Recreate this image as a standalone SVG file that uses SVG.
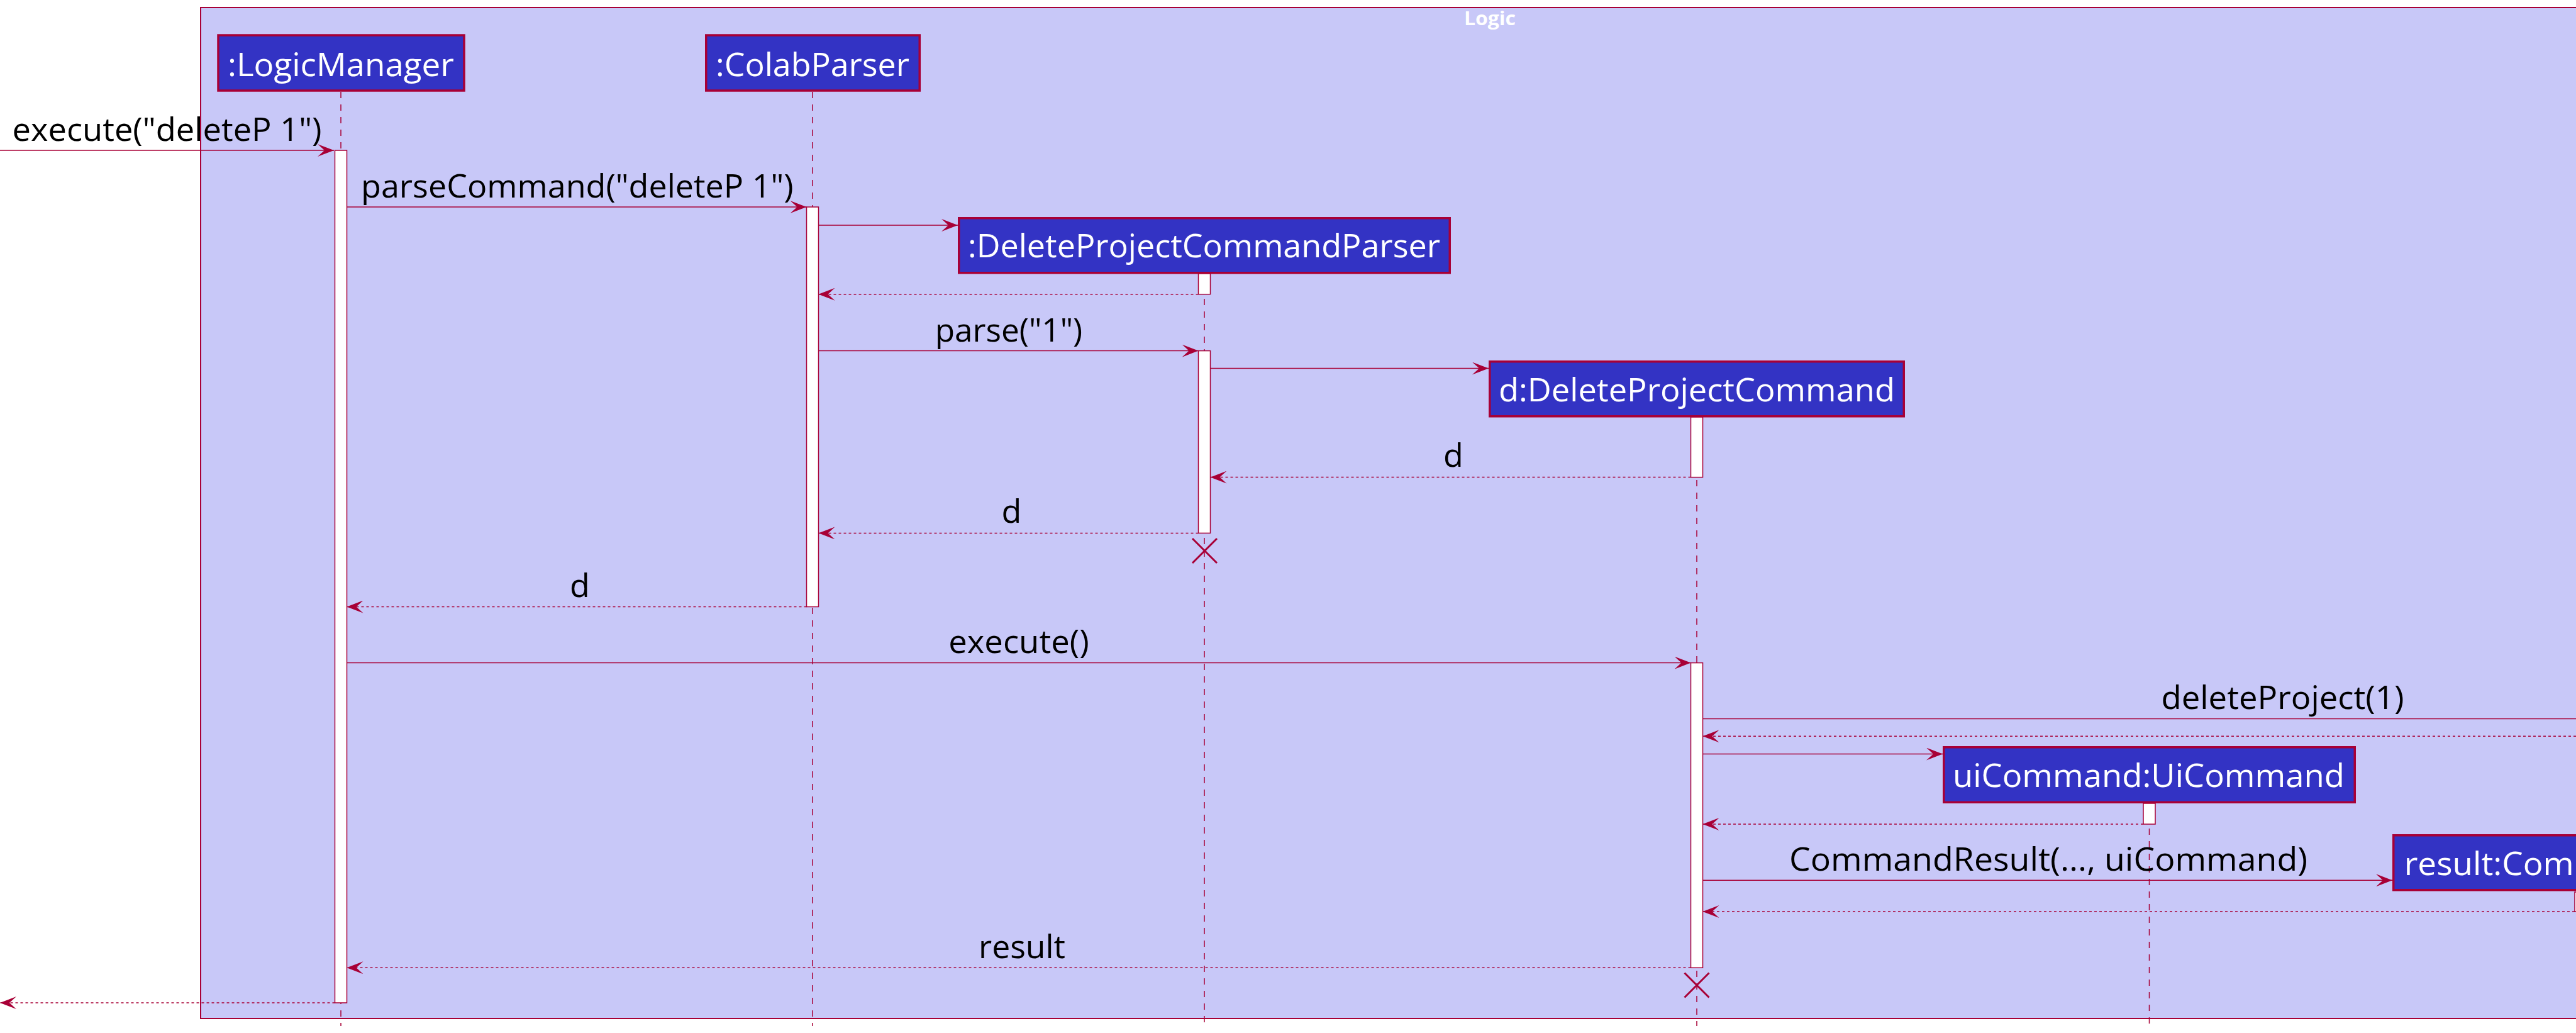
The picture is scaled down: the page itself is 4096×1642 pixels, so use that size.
<svg xmlns="http://www.w3.org/2000/svg" width="4096" height="1642" viewBox="0 0 4096 1642">
<defs>
<style>
.frame{fill:#C8C8F8;stroke:#A80036;stroke-width:2}
.title{font-family:"Open Sans","DejaVu Sans",sans-serif;font-weight:bold;font-size:30px;fill:#FFFFFF}
.pbox{fill:#3333C4;stroke:#A80036;stroke-width:3.5}
.ptext{font-family:"Open Sans","DejaVu Sans",sans-serif;font-size:52px;fill:#FFFFFF}
.life{stroke:#A80036;stroke-width:1.5;stroke-dasharray:10,10;fill:none}
.act{fill:#FFFFFF;stroke:#A80036;stroke-width:1.5}
.msg{stroke:#A80036;stroke-width:1.5;fill:none;marker-end:url(#ah)}
.ret{stroke:#A80036;stroke-width:1.5;stroke-dasharray:4,4;fill:none;marker-end:url(#ah)}
.mtext{font-family:"Open Sans","DejaVu Sans",sans-serif;font-size:52px;fill:#000000;text-anchor:middle}
.x{stroke:#A80036;stroke-width:3;fill:none}
</style>
<marker id="ah" viewBox="0 -10 26 20" refX="26" refY="0" markerWidth="26" markerHeight="20" markerUnits="userSpaceOnUse" orient="auto">
<path d="M0,-10 L26,0 L0,10 L11,0 Z" fill="#A80036"/>
</marker>
</defs>
<rect x="0" y="0" width="4096" height="1642" fill="#FFFFFF"/>
<g id="frame-logic">
<rect class="frame" x="319" y="12" width="3900" height="1607"/>
<text class="title" x="2369" y="40" text-anchor="middle" textLength="82" lengthAdjust="spacingAndGlyphs">Logic</text>
</g>
<g id="lifelines">
<line class="life" x1="542" y1="146" x2="542" y2="1631"/>
<line class="life" x1="1292" y1="146" x2="1292" y2="1631"/>
<line class="life" x1="1915" y1="435" x2="1915" y2="1631"/>
<line class="life" x1="2698" y1="663" x2="2698" y2="1631"/>
<line class="life" x1="3417.5" y1="1277" x2="3417.5" y2="1631"/>
</g>
<g id="logicManager">
<rect class="pbox" x="347" y="56" width="391" height="88"/>
<text class="ptext" x="542" y="120.5" text-anchor="middle" textLength="360" lengthAdjust="spacingAndGlyphs">:LogicManager</text>
<rect class="act" x="532.5" y="239" width="19" height="1355"/>
</g>
<g id="colabParser">
<rect class="pbox" x="1122.75" y="56" width="339.5" height="88"/>
<text class="ptext" x="1292" y="120.5" text-anchor="middle" textLength="308" lengthAdjust="spacingAndGlyphs">:ColabParser</text>
<rect class="act" x="1282.5" y="329" width="19" height="635.5"/>
</g>
<g id="deleteProjectCommandParser">
<rect class="pbox" x="1524.75" y="346.75" width="780.5" height="87"/>
<text class="ptext" x="1914.5" y="409" text-anchor="middle" textLength="751" lengthAdjust="spacingAndGlyphs">:DeleteProjectCommandParser</text>
<rect class="act" x="1905.5" y="435" width="19" height="32.7"/>
<rect class="act" x="1905.5" y="557.6" width="19" height="289.8"/>
</g>
<g id="deleteProjectCommand">
<rect class="pbox" x="2368.75" y="574.75" width="658.5" height="87"/>
<text class="ptext" x="2698" y="637.5" text-anchor="middle" textLength="630" lengthAdjust="spacingAndGlyphs">d:DeleteProjectCommand</text>
<rect class="act" x="2688.5" y="663" width="19" height="95.6"/>
<rect class="act" x="2688.5" y="1053.6" width="19" height="484.7"/>
</g>
<g id="uiCommand">
<rect class="pbox" x="3090.75" y="1187.75" width="653.5" height="87.5"/>
<text class="ptext" x="3416.5" y="1250.5" text-anchor="middle" textLength="623" lengthAdjust="spacingAndGlyphs">uiCommand:UiCommand</text>
<rect class="act" x="3408" y="1277" width="19" height="33"/>
</g>
<g id="commandResult">
<rect class="pbox" x="3805.75" y="1327.75" width="600" height="87"/>
<text class="ptext" x="3822.7" y="1391" textLength="270" lengthAdjust="spacingAndGlyphs">result:Com</text>
<rect class="act" x="4094" y="1418" width="19" height="31"/>
</g>
<g id="connectors">
<line class="msg" x1="0" y1="239" x2="531" y2="239"/>
<text class="mtext" x="265.6" y="224" textLength="492" lengthAdjust="spacingAndGlyphs">execute("deleteP 1")</text>
<line class="msg" x1="551.5" y1="329" x2="1282.5" y2="329"/>
<text class="mtext" x="917.8" y="314" textLength="687.5" lengthAdjust="spacingAndGlyphs">parseCommand("deleteP 1")</text>
<line class="msg" x1="1301.5" y1="358" x2="1523" y2="358"/>
<line class="ret" x1="1905.5" y1="467.7" x2="1301.5" y2="467.7"/>
<line class="msg" x1="1301.5" y1="557.6" x2="1905.5" y2="557.6"/>
<text class="mtext" x="1604" y="542.7" textLength="234.5" lengthAdjust="spacingAndGlyphs">parse("1")</text>
<line class="msg" x1="1924.5" y1="585.6" x2="2367" y2="585.6"/>
<line class="ret" x1="2688.5" y1="758.6" x2="1924.5" y2="758.6"/>
<text class="mtext" x="2311" y="742">d</text>
<line class="ret" x1="1905.5" y1="847.4" x2="1301.5" y2="847.4"/>
<text class="mtext" x="1608.5" y="831">d</text>
<path class="x" d="M1896,856 L1935,895 M1935,856 L1896,895"/>
<line class="ret" x1="1282.5" y1="964.5" x2="551.5" y2="964.5"/>
<text class="mtext" x="922" y="949">d</text>
<line class="msg" x1="551.5" y1="1053.6" x2="2688.5" y2="1053.6"/>
<text class="mtext" x="1620" y="1038" textLength="223.5" lengthAdjust="spacingAndGlyphs">execute()</text>
<line class="msg" x1="2707.5" y1="1142.5" x2="4200" y2="1142.5"/>
<text class="mtext" x="3629.5" y="1127" textLength="386" lengthAdjust="spacingAndGlyphs">deleteProject(1)</text>
<line class="ret" x1="4200" y1="1170.2" x2="2707.5" y2="1170.2"/>
<line class="msg" x1="2707.5" y1="1198.5" x2="3089" y2="1198.5"/>
<line class="ret" x1="3408" y1="1310" x2="2707.5" y2="1310"/>
<line class="msg" x1="2707.5" y1="1399.3" x2="3804" y2="1399.3"/>
<text class="mtext" x="3257" y="1383.5" textLength="824" lengthAdjust="spacingAndGlyphs">CommandResult(..., uiCommand)</text>
<line class="ret" x1="4094" y1="1449" x2="2707.5" y2="1449"/>
<line class="ret" x1="2688.5" y1="1538.3" x2="551.5" y2="1538.3"/>
<text class="mtext" x="1625" y="1523.4" textLength="138" lengthAdjust="spacingAndGlyphs">result</text>
<path class="x" d="M2678.5,1546.5 L2717.5,1585.5 M2717.5,1546.5 L2678.5,1585.5"/>
<line class="ret" x1="532.5" y1="1594" x2="0" y2="1594"/>
</g>
</svg>
